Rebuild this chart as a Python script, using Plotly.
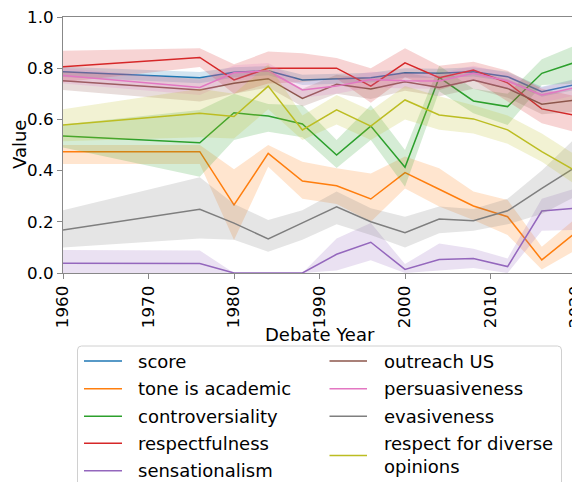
import plotly.graph_objects as go

YEARS = [1960, 1976, 1980, 1984, 1988, 1992, 1996, 2000, 2004, 2008, 2012, 2016, 2020]
X_TICKS = [1960, 1970, 1980, 1990, 2000, 2010, 2020]
Y_TICKS = [0.0, 0.2, 0.4, 0.6, 0.8, 1.0]

SERIES_NAMES = ["score", "tone is academic", "controversiality", "respectfulness",
                "sensationalism", "outreach US", "persuasiveness", "evasiveness",
                "respect for diverse<br>opinions"]

SCORE = [0.786, 0.763, 0.784, 0.790, 0.754, 0.759, 0.763, 0.782, 0.780, 0.786, 0.767, 0.708, 0.737]
SCORE_LO = [0.766, 0.741, 0.764, 0.772, 0.734, 0.740, 0.744, 0.764, 0.762, 0.768, 0.748, 0.688, 0.716]
SCORE_HI = [0.806, 0.785, 0.804, 0.808, 0.774, 0.778, 0.782, 0.800, 0.798, 0.804, 0.786, 0.728, 0.758]

TONE = [0.474, 0.474, 0.266, 0.467, 0.359, 0.341, 0.289, 0.392, 0.327, 0.262, 0.220, 0.051, 0.159]
TONE_LO = [0.426, 0.426, 0.129, 0.415, 0.290, 0.270, 0.200, 0.330, 0.260, 0.207, 0.148, 0.014, 0.090]
TONE_HI = [0.500, 0.500, 0.405, 0.500, 0.435, 0.409, 0.389, 0.455, 0.409, 0.318, 0.285, 0.103, 0.214]

CONTRO = [0.535, 0.509, 0.626, 0.613, 0.582, 0.461, 0.574, 0.413, 0.764, 0.672, 0.650, 0.780, 0.824]
CONTRO_LO = [0.490, 0.376, 0.520, 0.552, 0.530, 0.410, 0.520, 0.337, 0.710, 0.624, 0.578, 0.734, 0.740]
CONTRO_HI = [0.580, 0.637, 0.700, 0.660, 0.655, 0.520, 0.655, 0.480, 0.810, 0.720, 0.700, 0.835, 0.890]

RESPECT = [0.806, 0.842, 0.754, 0.800, 0.800, 0.800, 0.730, 0.821, 0.763, 0.793, 0.743, 0.641, 0.615]
RESPECT_LO = [0.745, 0.805, 0.700, 0.740, 0.745, 0.760, 0.665, 0.765, 0.715, 0.755, 0.670, 0.585, 0.550]
RESPECT_HI = [0.868, 0.878, 0.815, 0.865, 0.858, 0.840, 0.800, 0.878, 0.810, 0.825, 0.790, 0.720, 0.690]

SENS = [0.038, 0.037, 0.0, 0.0, 0.0, 0.073, 0.120, 0.014, 0.053, 0.057, 0.025, 0.242, 0.253]
SENS_LO = [0.0, 0.0, 0.0, 0.0, 0.0, 0.010, 0.050, 0.0, 0.010, 0.020, 0.0, 0.165, 0.168]
SENS_HI = [0.090, 0.088, 0.0, 0.0, 0.0, 0.135, 0.195, 0.035, 0.115, 0.095, 0.057, 0.290, 0.331]

OUTREACH = [0.751, 0.715, 0.741, 0.759, 0.682, 0.737, 0.719, 0.747, 0.725, 0.754, 0.721, 0.659, 0.676]
OUTREACH_LO = [0.715, 0.670, 0.700, 0.725, 0.650, 0.700, 0.680, 0.712, 0.690, 0.720, 0.685, 0.620, 0.630]
OUTREACH_HI = [0.787, 0.760, 0.780, 0.793, 0.720, 0.774, 0.758, 0.782, 0.760, 0.788, 0.757, 0.700, 0.720]

PERS = [0.771, 0.725, 0.782, 0.790, 0.715, 0.730, 0.756, 0.751, 0.750, 0.780, 0.750, 0.695, 0.725]
PERS_LO = [0.740, 0.695, 0.752, 0.760, 0.685, 0.700, 0.726, 0.721, 0.720, 0.750, 0.720, 0.665, 0.695]
PERS_HI = [0.801, 0.755, 0.812, 0.820, 0.745, 0.760, 0.786, 0.781, 0.780, 0.810, 0.780, 0.725, 0.755]

EVAS = [0.168, 0.249, 0.195, 0.133, 0.196, 0.259, 0.200, 0.157, 0.211, 0.204, 0.243, 0.331, 0.415]
EVAS_LO = [0.100, 0.135, 0.130, 0.083, 0.130, 0.190, 0.148, 0.100, 0.155, 0.165, 0.190, 0.230, 0.300]
EVAS_HI = [0.245, 0.374, 0.270, 0.207, 0.245, 0.318, 0.253, 0.220, 0.260, 0.250, 0.290, 0.400, 0.530]

DIVERSE = [0.578, 0.624, 0.611, 0.730, 0.559, 0.637, 0.574, 0.676, 0.617, 0.602, 0.559, 0.474, 0.398]
DIVERSE_LO = [0.515, 0.530, 0.525, 0.640, 0.520, 0.580, 0.520, 0.600, 0.560, 0.545, 0.505, 0.435, 0.344]
DIVERSE_HI = [0.640, 0.720, 0.700, 0.815, 0.615, 0.695, 0.635, 0.730, 0.690, 0.655, 0.615, 0.545, 0.460]

COLORS = ["#1f77b4", "#ff7f0e", "#2ca02c", "#d62728", "#9467bd",
          "#8c564b", "#e377c2", "#7f7f7f", "#bcbd22"]

MEANS = [SCORE, TONE, CONTRO, RESPECT, SENS, OUTREACH, PERS, EVAS, DIVERSE]
LOWS = [SCORE_LO, TONE_LO, CONTRO_LO, RESPECT_LO, SENS_LO, OUTREACH_LO, PERS_LO, EVAS_LO, DIVERSE_LO]
HIGHS = [SCORE_HI, TONE_HI, CONTRO_HI, RESPECT_HI, SENS_HI, OUTREACH_HI, PERS_HI, EVAS_HI, DIVERSE_HI]

FONT = "DejaVu Sans"


def rgba(hex_color, a):
    h = hex_color.lstrip("#")
    r, g, b = int(h[0:2], 16), int(h[2:4], 16), int(h[4:6], 16)
    return f"rgba({r},{g},{b},{a})"


fig = go.Figure()
for name, color, mean, lo, hi in zip(SERIES_NAMES, COLORS, MEANS, LOWS, HIGHS):
    fig.add_trace(go.Scatter(x=YEARS, y=mean, mode="lines",
                             line=dict(color=color, width=1.5),
                             showlegend=False, hoverinfo="skip"))
    fig.add_trace(go.Scatter(x=YEARS + YEARS[::-1], y=hi + lo[::-1],
                             mode="lines", fill="toself",
                             fillcolor=rgba(color, 0.2), line=dict(width=0),
                             showlegend=False, hoverinfo="skip"))

# The page body has an 8px default margin, so the figure is offset by 8px.
OFF = 8
W, H = 580 - OFF, 482 - OFF
# plot area in window pixels: x 63..576, y 17..273
L, R, T, B = 63 - OFF, 4, 17 - OFF, 209
PW, PH = W - L - R, H - T - B


def px(xp):
    return (xp - OFF - L) / PW


def py(yp):
    return (H - B - (yp - OFF)) / PH


shapes = []
annotations = []

# axis titles
annotations.append(dict(xref="paper", yref="paper", x=px(320), y=py(334),
                        text="Debate Year", showarrow=False, xanchor="center", yanchor="middle",
                        font=dict(family=FONT, size=18, color="#000")))
annotations.append(dict(xref="paper", yref="paper", x=px(19), y=py(145),
                        text="Value", showarrow=False, xanchor="center", yanchor="middle",
                        textangle=-90, font=dict(family=FONT, size=18, color="#000")))

# manual legend (matplotlib-style, two columns)
lx0, lx1, ly0, ly1 = 77.5, 561.5, 346, 500
rad = 4
path = (f"M {px(lx0 + rad)},{py(ly0)} L {px(lx1 - rad)},{py(ly0)} "
        f"Q {px(lx1)},{py(ly0)} {px(lx1)},{py(ly0 + rad)} "
        f"L {px(lx1)},{py(ly1)} L {px(lx0)},{py(ly1)} "
        f"L {px(lx0)},{py(ly0 + rad)} Q {px(lx0)},{py(ly0)} {px(lx0 + rad)},{py(ly0)} Z")
shapes.append(dict(type="path", xref="paper", yref="paper", path=path,
                   line=dict(color="#d0d0d0", width=1), fillcolor="rgba(255,255,255,0.8)",
                   layer="above"))

rows = [361, 388.7, 416.3, 443.3, 470.7]
cols = [(84, 122, 136), (329.5, 367, 382)]
for i, (name, color) in enumerate(zip(SERIES_NAMES, COLORS)):
    c = 0 if i < 5 else 1
    r = i if i < 5 else i - 5
    yline = rows[r]
    ytext = rows[r]
    if "<br>" in name:
        yline = 455.5
        ytext = 454.5
    x0, x1, xt = cols[c]
    shapes.append(dict(type="line", xref="paper", yref="paper",
                       x0=px(x0), x1=px(x1), y0=py(yline), y1=py(yline),
                       line=dict(color=color, width=1.5), layer="above"))
    annotations.append(dict(xref="paper", yref="paper", x=px(xt), y=py(ytext),
                            text=name, showarrow=False, xanchor="left", yanchor="middle",
                            align="left", font=dict(family=FONT, size=18, color="#000")))

fig.update_layout(
    width=W, height=H,
    margin=dict(l=L, r=R, t=T, b=B, pad=0, autoexpand=False),
    plot_bgcolor="white", paper_bgcolor="white",
    font=dict(family=FONT, color="#000"),
    shapes=shapes, annotations=annotations,
    xaxis=dict(range=[1960, 2020], tickvals=X_TICKS, ticktext=[str(v) for v in X_TICKS],
               tickangle=-90, ticks="outside", ticklen=5, tickwidth=1, tickcolor="#888",
               showline=True, linecolor="#888", linewidth=1, mirror=True, automargin=False,
               ticklabeloverflow="allow",
               showgrid=False, zeroline=False, tickfont=dict(family=FONT, size=16.7)),
    yaxis=dict(range=[0, 1], tickvals=Y_TICKS, ticktext=[f"{v:.1f}" for v in Y_TICKS],
               ticks="outside", ticklen=5, tickwidth=1, tickcolor="#888",
               showline=True, linecolor="#888", linewidth=1, mirror=True, automargin=False,
               ticklabeloverflow="allow",
               showgrid=False, zeroline=False, tickfont=dict(family=FONT, size=16.7)),
)

fig.write_html("out.html")
